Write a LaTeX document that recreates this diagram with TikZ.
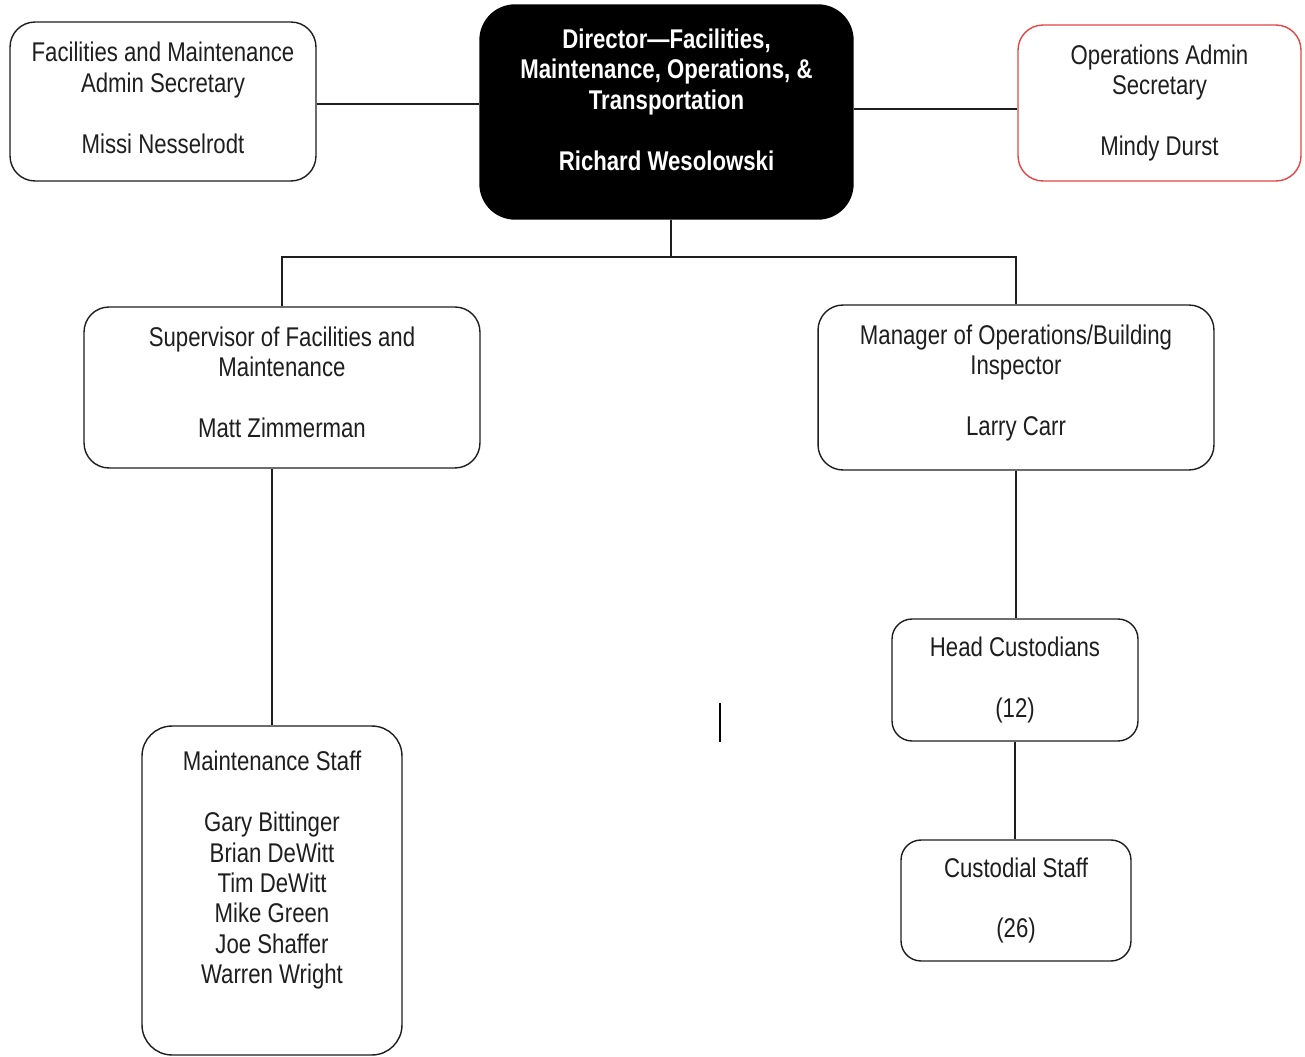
\documentclass[tikz,border=0pt]{standalone}
\usepackage{fontspec}
\setmainfont{Liberation Sans}[FakeStretch=0.82]
\usepackage{xcolor}
\usepackage{tikz}
\usetikzlibrary{positioning,calc}
\definecolor{ocInk}{RGB}{ 30, 30, 30}
\definecolor{ocRed}{RGB}{226, 70, 70}
\newcommand{\gapline}{\\[17.3pt]}
\newcommand{\lift}[1]{\\[#1]~}

\begin{document}
\begin{tikzpicture}[x=0.02cm,y=-0.02cm,
    every node/.style={font=\fontsize{15.4}{17.3}\selectfont,align=center,text=ocInk},
    wire/.style={draw=ocInk,line width=0.8pt},
    card/.style={rectangle,rounded corners=0.5cm,draw=ocInk,line width=0.8pt,
                 fill=white,inner sep=2pt},
    boss/.style={card,fill=black,draw=black,rounded corners=0.7cm,
                 text=white,font=\fontsize{15.4}{17.3}\selectfont\bfseries},
    redcard/.style={card,draw=ocRed}
  ]
  \useasboundingbox (0,0) rectangle (1305,1057);
  % Top row
  \node[boss,minimum width=7.46cm,minimum height=4.28cm] (dir) at (666.5,112)
    {Director---Facilities,\\Maintenance, Operations, \&\\Transportation\gapline
     Richard Wesolowski\lift{-3pt}};
  \node[card,minimum width=6.12cm,minimum height=3.18cm] (sec) at (163,101.5)
    {Facilities and Maintenance\\Admin Secretary\gapline Missi Nesselrodt\lift{-13pt}};
  \node[redcard,minimum width=5.66cm,minimum height=3.12cm] (ops) at (1159.5,103)
    {Operations Admin\\Secretary\gapline Mindy Durst};
  % Middle row
  \node[card,minimum width=7.92cm,minimum height=3.22cm] (sup) at (282,387.5)
    {Supervisor of Facilities and\\Maintenance\gapline Matt Zimmerman\lift{-11pt}};
  \node[card,minimum width=7.92cm,minimum height=3.30cm] (mgr) at (1016,387.5)
    {Manager of Operations/Building\\Inspector\gapline Larry Carr\lift{-9pt}};
  % Lower boxes
  \node[card,rounded corners=0.6cm,minimum width=5.20cm,minimum height=6.58cm]
    (maint) at (272,890.5)
    {Maintenance Staff\gapline Gary Bittinger\\Brian DeWitt\\Tim DeWitt\\
     Mike Green\\Joe Shaffer\\Warren Wright\lift{9pt}};
  \node[card,rounded corners=0.4cm,minimum width=4.92cm,minimum height=2.44cm]
    (head) at (1015,680) {Head Custodians\gapline (12)};
  \node[card,rounded corners=0.4cm,minimum width=4.60cm,minimum height=2.42cm]
    (cust) at (1016,900.5) {Custodial Staff\gapline (26)};
  % Lines
  \coordinate (bus) at (671,257);
  \draw[wire] ([yshift=-0.05cm]sec.east) -- ([yshift=-0.05cm]sec.east -| dir.west);
  \draw[wire] ([yshift=-0.12cm]ops.west -| dir.east) -- ([yshift=-0.12cm]ops.west);
  \draw[wire] (dir.south -| bus) -- (bus);
  \draw[wire] (sup.north) |- (bus) -| (mgr.north);
  \draw[wire] (maint.north) -- (maint.north |- sup.south);
  \draw[wire] (mgr.south) -- (head.north -| mgr.south);
  \draw[wire] (head.south) -- (cust.north -| head.south);
  \draw[line width=1.1pt] (720,703) -- (720,742);
\end{tikzpicture}
\end{document}
